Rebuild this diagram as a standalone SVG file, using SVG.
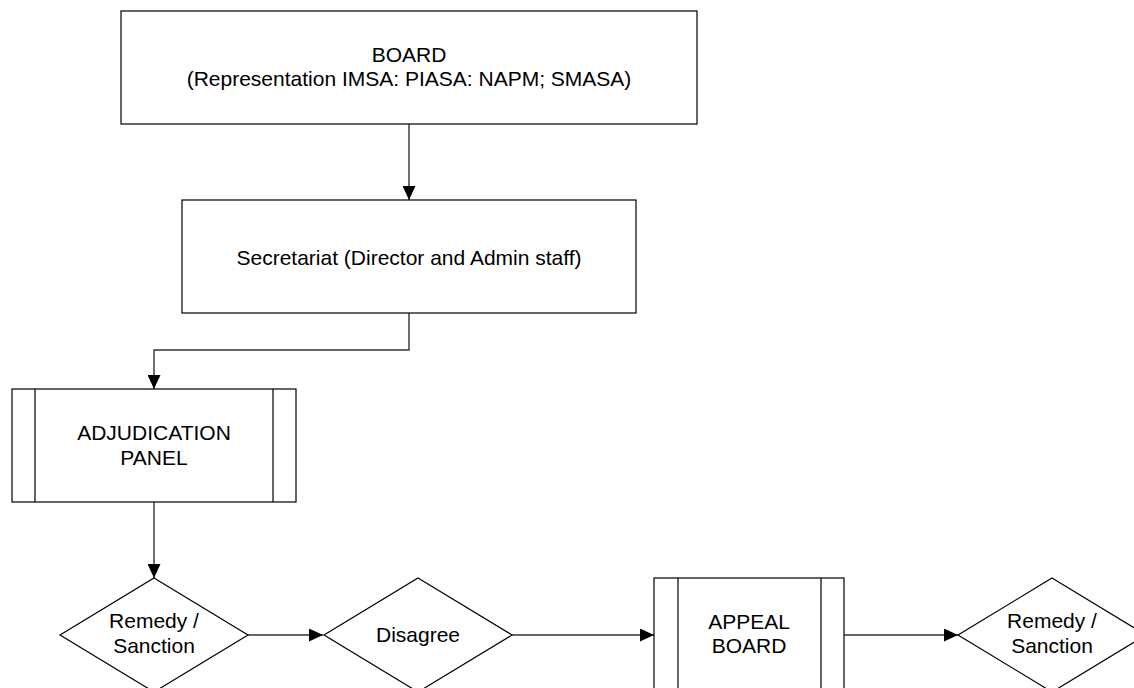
<svg xmlns="http://www.w3.org/2000/svg" width="1134" height="688" viewBox="0 0 1134 688">
<style>
.box{fill:#fff;stroke:#000;stroke-width:1.2}
.sub{fill:none;stroke:#000;stroke-width:1.2}
.t{font-family:"Liberation Sans",Arial,sans-serif;font-size:21px;fill:#000;text-anchor:middle}
.c{fill:none;stroke:#333;stroke-width:1.4}
</style>
<defs>
<marker id="ah" viewBox="0 0 14 13" refX="14" refY="6.5" markerWidth="14" markerHeight="13" markerUnits="userSpaceOnUse" orient="auto">
<path d="M0,0 L14,6.5 L0,13 Z" fill="#000"/>
</marker>
</defs>
<rect width="1134" height="688" fill="#fff"/>
<g id="connectors">
<path class="c" d="M409,124 V200" marker-end="url(#ah)"/>
<path class="c" d="M409,313 V350 H154 V389" marker-end="url(#ah)"/>
<path class="c" d="M154,502 V578" marker-end="url(#ah)"/>
<path class="c" d="M248,635 H323" marker-end="url(#ah)"/>
<path class="c" d="M512,635 H654" marker-end="url(#ah)"/>
<path class="c" d="M844,635 H958" marker-end="url(#ah)"/>
</g>
<g id="board">
<rect class="box" x="121" y="11" width="576" height="113"/>
<text class="t" x="409" y="62">BOARD</text>
<text class="t" x="409" y="86">(Representation IMSA: PIASA: NAPM; SMASA)</text>
</g>
<g id="secretariat">
<rect class="box" x="182" y="200" width="454" height="113"/>
<text class="t" x="409" y="265">Secretariat (Director and Admin staff)</text>
</g>
<g id="adjudication">
<rect class="box" x="12" y="389" width="284" height="113"/>
<path class="sub" d="M35,389 V502 M273,389 V502"/>
<text class="t" x="154" y="440">ADJUDICATION</text>
<text class="t" x="154" y="465">PANEL</text>
</g>
<g id="remedy1">
<polygon class="box" points="154,578 248,635 154,692 60,635"/>
<text class="t" x="154" y="628">Remedy /</text>
<text class="t" x="154" y="653">Sanction</text>
</g>
<g id="disagree">
<polygon class="box" points="418,578 512,635 418,692 324,635"/>
<text class="t" x="418" y="642">Disagree</text>
</g>
<g id="appeal">
<rect class="box" x="654" y="578" width="190" height="120"/>
<path class="sub" d="M678,578 V698 M821,578 V698"/>
<text class="t" x="749" y="629">APPEAL</text>
<text class="t" x="749" y="653">BOARD</text>
</g>
<g id="remedy2">
<polygon class="box" points="1052,578 1146,635 1052,692 958,635"/>
<text class="t" x="1052" y="628">Remedy /</text>
<text class="t" x="1052" y="653">Sanction</text>
</g>
</svg>
